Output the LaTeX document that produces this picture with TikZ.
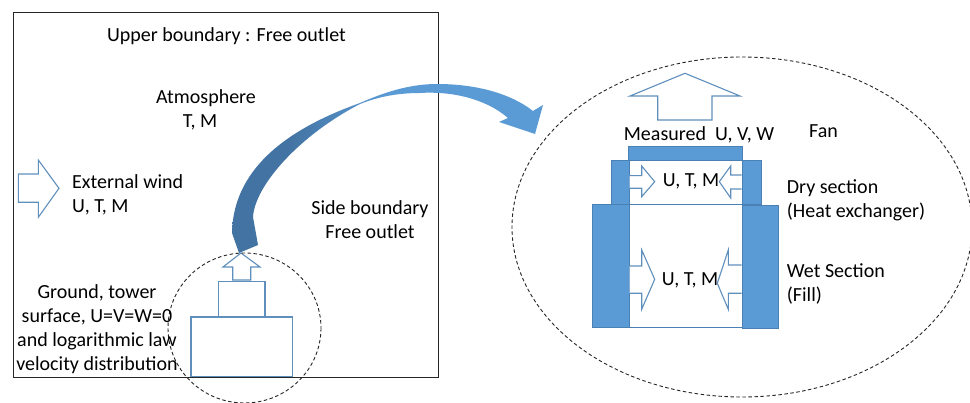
\documentclass[tikz,border=0pt]{standalone}
\usepackage{fontspec}
\setmainfont{Carlito}
\definecolor{bluefill}{HTML}{5B9BD5}
\definecolor{blueedge}{HTML}{5F8FBC}
\definecolor{dryedge}{HTML}{4A80B4}
\pgfdeclarehorizontalshading{curveshade}{100bp}{color(0bp)=(dryedge!90!black); color(34bp)=(dryedge!90!black); color(50bp)=(bluefill); color(100bp)=(bluefill)}
\tikzset{
  lbl/.style={font=\fontsize{20}{24}\selectfont,text=black,align=center,inner sep=0pt,anchor=base},
  lblleft/.style={lbl,anchor=base west,align=left},
  flowarrow/.style={draw=blueedge,line width=1.1pt,fill=white,line join=miter},
  towerbox/.style={draw=blueedge,line width=1.1pt,fill=white},
  louver/.style={draw=dryedge,line width=0.7pt,fill=bluefill},
  zone/.style={draw=black!85,line width=0.9pt,dash pattern=on 3.5pt off 2.5pt}
}
\begin{document}
\begin{tikzpicture}[x=1pt,y=-1pt]
\useasboundingbox (0,0) rectangle (970,403);
\fill[white] (0,0) rectangle (970,403);
\draw[black!85,line width=0.9pt] (13,12) rectangle (438,377);
% left tower
\draw[towerbox] (191,317) rectangle (292.5,376.5);
\draw[towerbox] (218.7,281.7) rectangle (265,317);
\draw[flowarrow] (241,253) -- (260,267) -- (250.7,267) -- (250.7,280) -- (232.7,280) -- (232.7,267) -- (223,267) -- cycle;
\draw[zone] (244.5,328) ellipse [x radius=76.5,y radius=75];
% external wind
\draw[flowarrow] (18.3,174) -- (38.3,174) -- (38.3,160) -- (59,188.3) -- (38.3,217.3) -- (38.3,202.3) -- (18.3,202.3) -- cycle;
% right zone
\draw[zone] (742,227) ellipse [x radius=230,y radius=170];
% curved arrow
\shade[shading=curveshade] (239,253) -- (232,233) .. controls (233,180) and (270,135) .. (360,103) .. controls (385,92) and (410,84) .. (437,84) .. controls (475,84) and (510,93) .. (533,111) -- (543,105) -- (535,134) -- (499,122) -- (508,118) .. controls (485,98) and (450,91) .. (420,93) .. controls (400,93) and (380,96) .. (360,104) .. controls (300,135) and (255,185) .. (253,217) -- (258,245) -- cycle;
% fan
\draw[flowarrow] (685,73.3) -- (740,96) -- (712,96) -- (712,120) -- (657.7,120) -- (657.7,96) -- (630,96) -- cycle;
% wet/dry
\draw[dryedge,line width=0.8pt] (629,204.3) -- (742,204.3) (629,327.3) -- (742,327.3);
\draw[louver] (628.3,146.7) rectangle (742,160);
\draw[louver] (611.3,160) rectangle (629.3,204.3);
\draw[louver] (742,160) rectangle (761,204.3);
\draw[louver] (592.7,204.3) rectangle (629.3,327.3);
\draw[louver] (742,205) rectangle (778,328.3);
% inner arrows
\draw[flowarrow] (629.5,175.7) -- (641.7,175.7) -- (641.7,166) -- (654.7,181.7) -- (641.7,196.7) -- (641.7,188.3) -- (629.5,188.3);
\draw[flowarrow] (741.7,175) -- (730.7,175) -- (730.7,166) -- (719.3,181.7) -- (730.7,198) -- (730.7,189) -- (741.7,189);
\draw[flowarrow] (629.5,266) -- (641.7,266) -- (641.7,250) -- (654.7,279.3) -- (641.7,309.3) -- (641.7,293.3) -- (629.5,293.3);
\draw[flowarrow] (741.7,265) -- (728.3,265) -- (728.3,250) -- (717.3,283.3) -- (728.3,309.3) -- (728.3,293.3) -- (741.7,293.3);
% texts
\node[lbl] (t1) at (226.5,41.7) {Upper boundary : Free outlet};
\node[lbl] (t2) at (206,103.5) {Atmosphere};
\node[lbl] (t2b) at (200,127.5) {T, M};
\node[lblleft] (t3) at (72,213) {External wind\\U, T, M};
\node[lbl] (t4) at (370,238.3) {Side boundary\\Free outlet};
\node[lbl] (t5) at (97,371) {Ground, tower\\surface, U=V=W=0\\and logarithmic law\\velocity distribution};
\node[lbl] (t6) at (699,141) {Measured\ \ U, V, W};
\node[lbl] (t7) at (823.5,137.5) {Fan};
\node[lbl] (t8) at (691,186.7) {U, T, M};
\node[lbl] (t9) at (690,285.7) {U, T, M};
\node[lblleft] (t10) at (786.7,217.7) {Dry section\\(Heat exchanger)};
\node[lblleft] (t11) at (786.7,302) {Wet Section\\(Fill)};
\end{tikzpicture}
\end{document}
